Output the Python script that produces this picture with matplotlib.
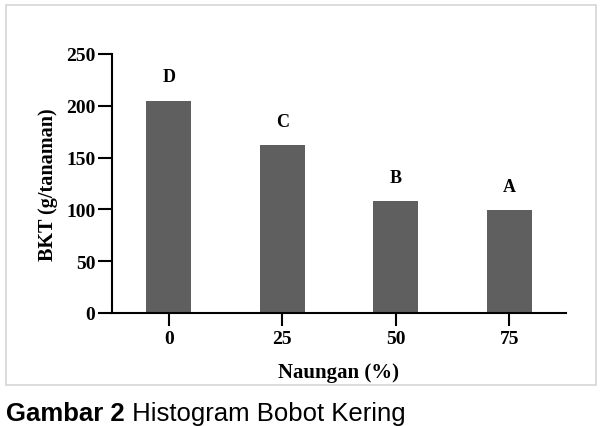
import matplotlib
matplotlib.use('Agg')
import matplotlib.pyplot as plt
from matplotlib.patches import Rectangle

naungan = ['0', '25', '50', '75']
bkt = [205, 162, 108, 99.5]
notasi = ['D', 'C', 'B', 'A']
y_ticks = [0, 50, 100, 150, 200, 250]

serif = 'Liberation Serif'
sans = 'Liberation Sans'

fig = plt.figure(figsize=(6.02, 4.27), dpi=100)
ax = fig.add_axes([112/602, 1 - 314/427, (566 - 112)/602, (314 - 55)/427])

x = range(len(naungan))
ax.bar(x, bkt, width=0.4, color='#5f5f5f', zorder=2)
for xi, val, lab in zip(x, bkt, notasi):
    ax.annotate(lab, (xi, val), xytext=(0, 11), textcoords='offset points',
                ha='center', va='bottom', fontsize=13, fontweight='bold', family=serif)

ax.set_xlim(-0.5, 3.5)
ax.set_ylim(0, 250)
ax.set_xticks(list(x))
ax.set_xticklabels(naungan)
ax.set_yticks(y_ticks)

for side in ['top', 'right']:
    ax.spines[side].set_visible(False)
for side in ['left', 'bottom']:
    ax.spines[side].set_linewidth(1.5)
ax.tick_params(axis='y', direction='out', length=10, width=1.5, pad=2)
ax.tick_params(axis='x', direction='out', length=9, width=1.5, pad=3)
for t in ax.get_xticklabels() + ax.get_yticklabels():
    t.set_family(serif)
    t.set_fontweight('bold')
    t.set_fontsize(14)

ax.set_ylabel('BKT (g/tanaman)', fontsize=14.5, fontweight='bold', family=serif)
ax.yaxis.set_label_coords(-0.12, 0.5)
ax.set_xlabel('Naungan (%)', fontsize=15, fontweight='bold', family=serif)
ax.xaxis.set_label_coords(0.5, -0.19)

# frame around the chart
fig.patches.append(Rectangle((6/602, 1 - 386/427), 590/602, 380/427, transform=fig.transFigure,
                             fill=False, edgecolor='#d6d6d6', linewidth=1.2))

# caption
t1 = fig.text(6/602, 6/427, 'Gambar 2', fontsize=18.5, fontweight='bold', family=sans, va='baseline')
fig.canvas.draw()
bb = t1.get_window_extent()
fig.text(bb.x1/602, 6/427, ' Histogram Bobot Kering', fontsize=18.5, family=sans, va='baseline')

fig.savefig('out.png', dpi=100)
